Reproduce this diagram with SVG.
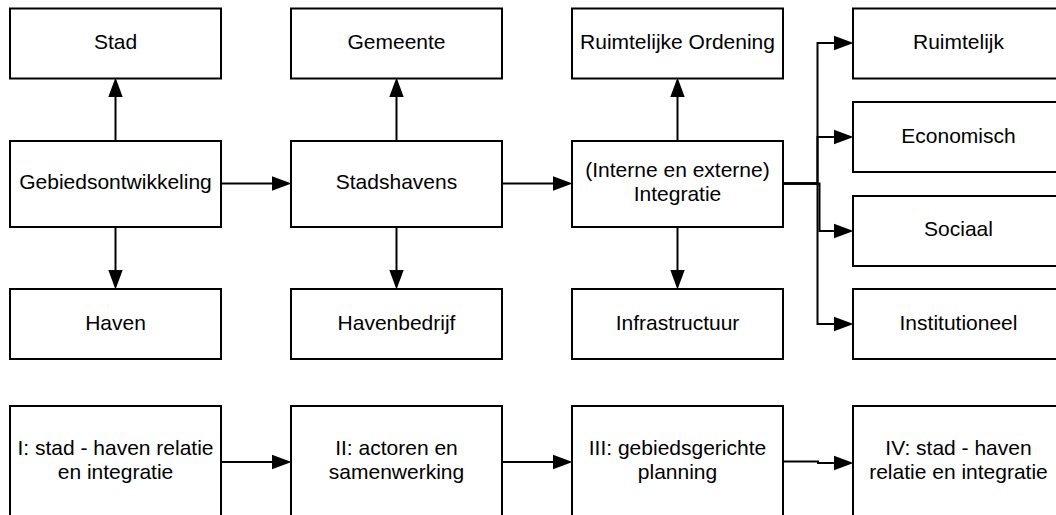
<svg xmlns="http://www.w3.org/2000/svg" width="1056" height="515" viewBox="0 0 1056 515">
<style>
.box{fill:#fff;stroke:#000;stroke-width:2}
.t{font-family:"Liberation Sans",Arial,sans-serif;font-size:21px;fill:#000;text-anchor:middle}
.c{fill:none;stroke:#000;stroke-width:2;marker-end:url(#ah)}
</style>
<defs>
<marker id="ah" markerUnits="userSpaceOnUse" markerWidth="20" markerHeight="16" viewBox="0 0 19 14" refX="9" refY="7" orient="auto">
<path d="M0,0 L19,7 L0,14 Z" fill="#000"/>
</marker>
</defs>
<rect width="1056" height="515" fill="#fff"/>
<g id="connectors">
<path class="c" d="M115.5,141 V88"/>
<path class="c" d="M115.5,227 V279"/>
<path class="c" d="M221,183.5 H281"/>
<path class="c" d="M396.5,141 V88"/>
<path class="c" d="M396.5,227 V279"/>
<path class="c" d="M502,183.5 H562"/>
<path class="c" d="M677.5,141 V88"/>
<path class="c" d="M677.5,227 V279"/>
<path class="c" d="M783,183.5 H817.5 V43 H843"/>
<path class="c" d="M783,183.5 H817.5 V137 H843"/>
<path class="c" d="M783,183.5 H819.5 V231 H843"/>
<path class="c" d="M783,183.5 H817.5 V324 H843"/>
<path class="c" d="M221,462 H281"/>
<path class="c" d="M502,462 H562"/>
<path class="c" d="M783,461.5 H818 V463 H843"/>
</g>
<g id="stad"><rect class="box" x="10" y="8.5" width="211" height="70"/><text class="t" x="115.5" y="49">Stad</text></g>
<g id="gebiedsontwikkeling"><rect class="box" x="10" y="141" width="211" height="86"/><text class="t" x="115.5" y="189">Gebiedsontwikkeling</text></g>
<g id="haven"><rect class="box" x="10" y="289" width="211" height="70"/><text class="t" x="115.5" y="329.5">Haven</text></g>
<g id="gemeente"><rect class="box" x="291" y="8.5" width="211" height="70"/><text class="t" x="396.5" y="49">Gemeente</text></g>
<g id="stadshavens"><rect class="box" x="291" y="141" width="211" height="86"/><text class="t" x="396.5" y="189">Stadshavens</text></g>
<g id="havenbedrijf"><rect class="box" x="291" y="289" width="211" height="70"/><text class="t" x="396.5" y="329.5">Havenbedrijf</text></g>
<g id="ruimtelijke-ordening"><rect class="box" x="572" y="8.5" width="211" height="70"/><text class="t" x="677.5" y="49">Ruimtelijke Ordening</text></g>
<g id="integratie"><rect class="box" x="572" y="141" width="211" height="86"/><text class="t" x="677.5" y="176.5">(Interne en externe)</text><text class="t" x="677.5" y="200.5">Integratie</text></g>
<g id="infrastructuur"><rect class="box" x="572" y="289" width="211" height="70"/><text class="t" x="677.5" y="329.5">Infrastructuur</text></g>
<g id="ruimtelijk"><rect class="box" x="853" y="8.5" width="211" height="70"/><text class="t" x="958.5" y="49">Ruimtelijk</text></g>
<g id="economisch"><rect class="box" x="853" y="102" width="211" height="70"/><text class="t" x="958.5" y="142.5">Economisch</text></g>
<g id="sociaal"><rect class="box" x="853" y="196" width="211" height="70"/><text class="t" x="958.5" y="236">Sociaal</text></g>
<g id="institutioneel"><rect class="box" x="853" y="289" width="211" height="70"/><text class="t" x="958.5" y="329.5">Institutioneel</text></g>
<g id="fase-1"><rect class="box" x="10" y="406" width="211" height="130"/><text class="t" x="115.5" y="455">I: stad - haven relatie</text><text class="t" x="115.5" y="479">en integratie</text></g>
<g id="fase-2"><rect class="box" x="291" y="406" width="211" height="130"/><text class="t" x="396.5" y="455">II: actoren en</text><text class="t" x="396.5" y="479">samenwerking</text></g>
<g id="fase-3"><rect class="box" x="572" y="406" width="211" height="130"/><text class="t" x="677.5" y="455">III: gebiedsgerichte</text><text class="t" x="677.5" y="479">planning</text></g>
<g id="fase-4"><rect class="box" x="853" y="406" width="211" height="130"/><text class="t" x="958.5" y="455">IV: stad - haven</text><text class="t" x="958.5" y="479">relatie en integratie</text></g>
</svg>
